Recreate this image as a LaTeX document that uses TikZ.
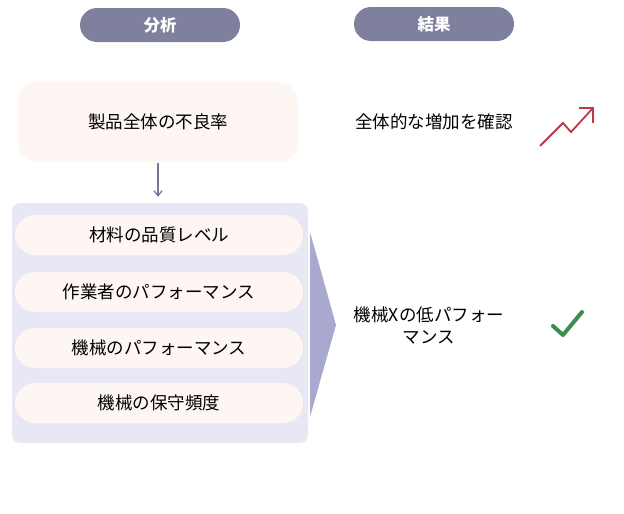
\documentclass[tikz,border=0pt]{standalone}
\usepackage{fontspec}
\setmainfont{Noto Sans CJK JP}
\usepackage{xcolor}
\usetikzlibrary{positioning,arrows.meta}

\definecolor{headfill}{HTML}{7F7F9E}
\definecolor{boxfill}{HTML}{FDF6F3}
\definecolor{panelfill}{HTML}{E8E8F5}
\definecolor{wedgefill}{HTML}{A9A9CF}
\definecolor{flowcol}{HTML}{77779A}
\definecolor{trendred}{HTML}{C0364A}
\definecolor{checkgreen}{HTML}{3A8F4A}

\begin{document}
\begin{tikzpicture}[x=1pt, y=-1pt, >={Straight Barb[length=5pt,width=8pt]},
    header/.style={fill=headfill, rounded corners=17pt, minimum width=160pt, minimum height=34pt,
        text=white, font=\fontsize{16.5}{18}\selectfont\bfseries},
    pill/.style={fill=boxfill, rounded corners=20pt, minimum width=288pt, minimum height=40pt,
        text=black, font=\fontsize{17.5}{20}\selectfont},
    result/.style={align=center, text=black, font=\fontsize{17.5}{22}\selectfont}]
    \useasboundingbox (0,0) rectangle (624,514);

    % column headers
    \node[header] (analysis) at (160,25) {分析};
    \node[header] (outcome) at (434,24) {結果};

    % left column
    \node[pill, rounded corners=20pt, minimum width=280pt, minimum height=80pt] (defect) at (158,122) {製品全体の不良率};
    \node[fill=panelfill, rounded corners=8pt, minimum width=296pt, minimum height=240pt] (factors) at (160,323) {};
    \node[pill] (material) at (159,235) {材料の品質レベル};
    \node[pill] (worker) at (159,292) {作業者のパフォーマンス};
    \node[pill] (machine) at (159,348) {機械のパフォーマンス};
    \node[pill] (upkeep) at (159,403) {機械の保守頻度};
    \draw[->, flowcol, line width=1.3pt, shorten <=1pt, shorten >=6pt] (defect.south) -- (defect.south |- factors.north);
    \fill[wedgefill] (310,232) -- (336,325) -- (310,417) -- cycle;

    % right column
    \node[result] (rise) at (434,122) {全体的な増加を確認};
    \node[result] (cause) at (429,326) {機械Xの低パフォー\\マンス};
    \draw[trendred, line width=1.8pt, line join=miter] (540,146) -- (563,123) -- (571,132) -- (593,108);
    \draw[trendred, line width=1.8pt] (579,108) -- (593,108) -- (593,123);
    \draw[checkgreen, line width=4pt, line cap=round, line join=round] (553,326) -- (563,335) -- (582,312);
\end{tikzpicture}
\end{document}
